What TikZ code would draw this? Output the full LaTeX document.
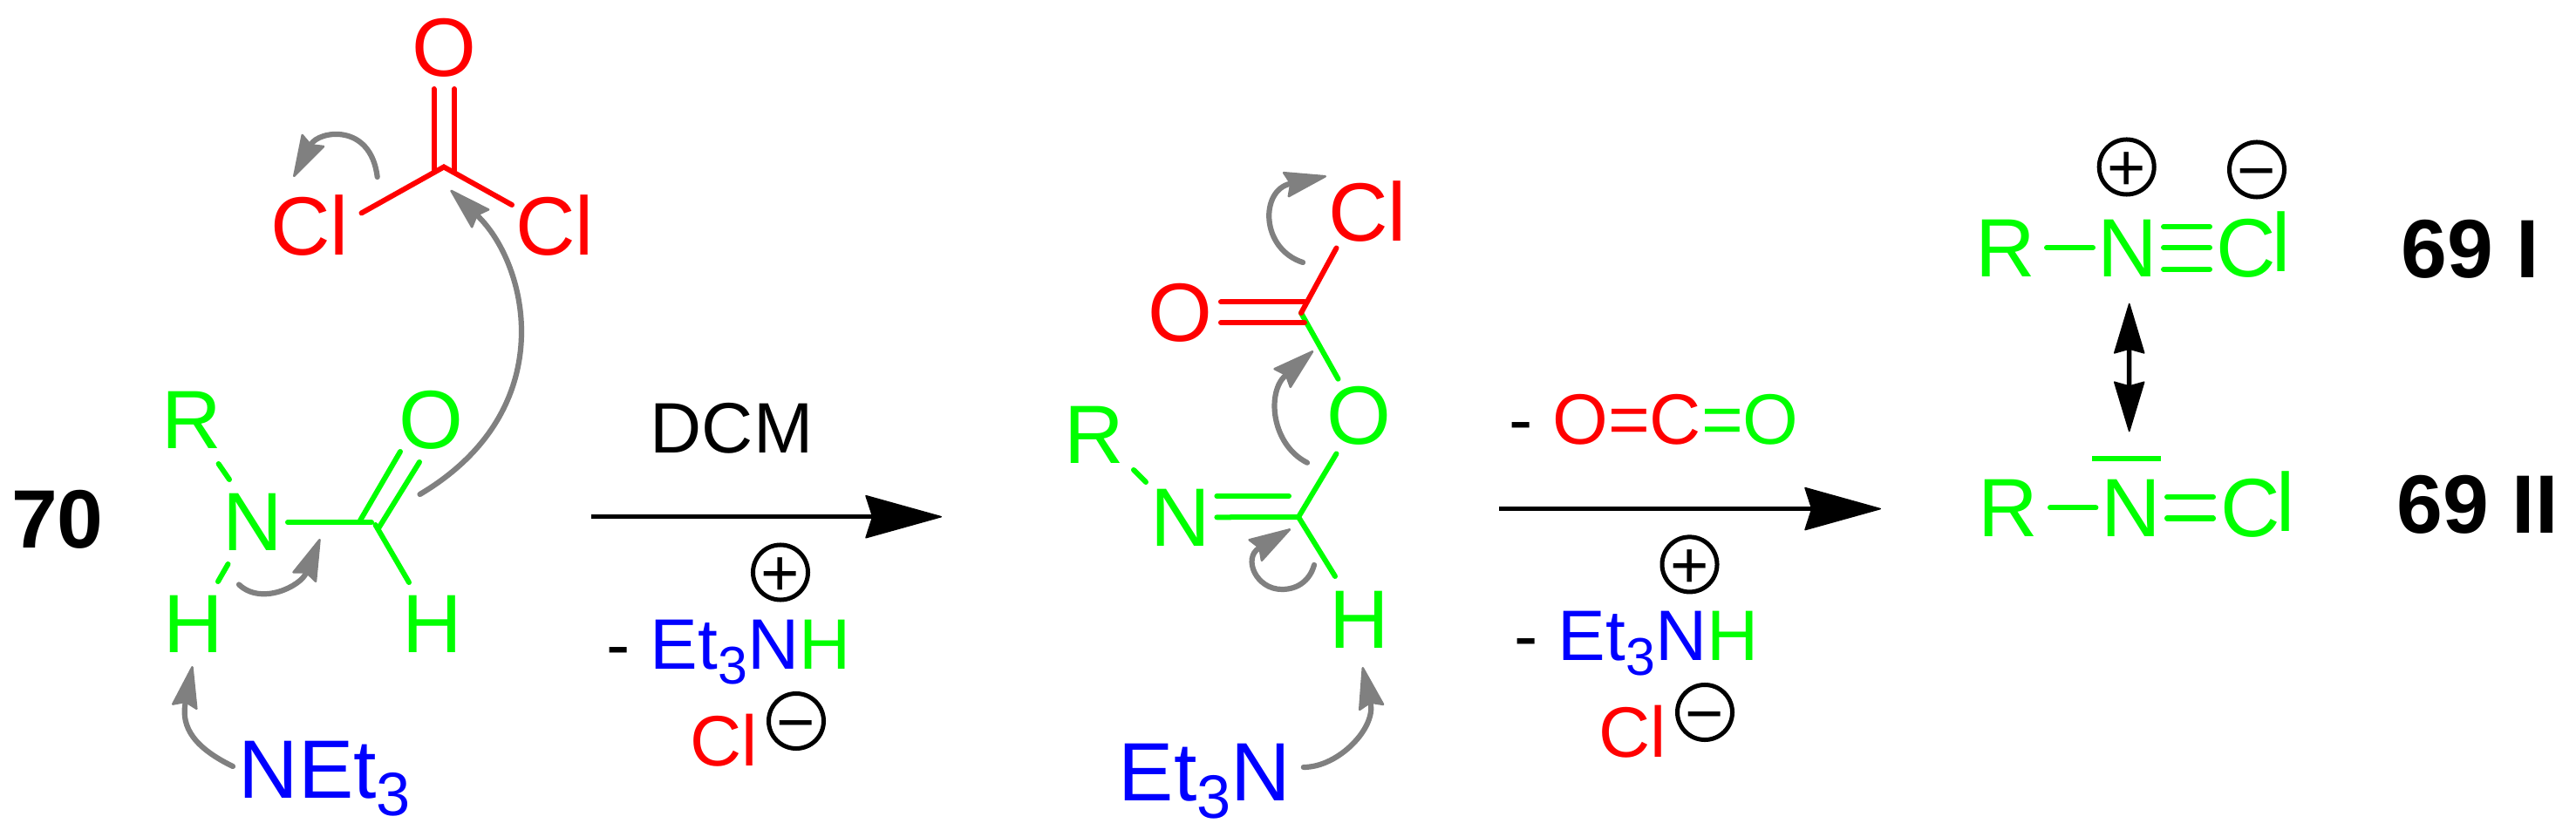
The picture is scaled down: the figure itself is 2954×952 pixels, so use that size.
\documentclass[tikz,border=0pt]{standalone}
\usepackage{fontspec}
\setmainfont{Liberation Sans}
\usetikzlibrary{arrows.meta}
\newcommand{\subbig}{\raisebox{-.2cm}{\fontsize{20}{20}\selectfont 3}}
\newcommand{\subsmall}{\raisebox{-.17cm}{\fontsize{17.3}{20}\selectfont 3}}
\newcommand{\Clup}{C\kern-.04cm\smash{\raisebox{.065cm}{l}}}
\tikzset{
  atom/.style={inner sep=0pt,font=\fontsize{27}{30}\selectfont},
  label/.style={inner sep=0pt,anchor=base west,font=\fontsize{23.3}{26}\selectfont},
  cmpd/.style={inner sep=0pt,anchor=base west,font=\fontsize{27}{30}\selectfont\bfseries},
  bond/.style={line width=0.06cm,line cap=round},
  push/.style={gray,line width=0.062cm,line cap=round,-{Stealth[length=0.52cm,width=0.31cm,inset=0.06cm,round,line width=0.025cm]}},
  rxn/.style={black,line width=0.055cm,-{Stealth[length=0.9cm,width=0.5cm,inset=0.08cm,round,line width=0.015cm]}},
  reso/.style={black,line width=0.055cm,{Stealth[length=0.6cm,width=0.36cm,inset=0.05cm,round,line width=0.015cm]}-{Stealth[length=0.6cm,width=0.36cm,inset=0.05cm,round,line width=0.015cm]}},
  charge/.style={draw,circle,inner sep=0pt,line width=0.05cm,minimum size=0.63cm,text height=0.54cm,text depth=0pt,font=\fontsize{21.6}{24}\selectfont}
}
\begin{document}
\begin{tikzpicture}[x=0.01cm,y=-0.01cm]
  \useasboundingbox (0,0) rectangle (2954,952);
  % phosgene
  \node [atom,text=red] (o1) at (509,55) {O};
  \node [atom,text=red] (cl1) at (355,259) {Cl};
  \node [atom,text=red] (cl2) at (636,259) {Cl};
  \coordinate (c1) at (509,191.5);
  \draw [bond,red] ([shift={(-11.5,47)}]o1.center) -- ([shift={(-11.5,4.5)}]c1);
  \draw [bond,red] ([shift={(12,47)}]o1.center) -- ([shift={(12,4.5)}]c1);
  \draw [bond,red] ([shift={(59.5,-14.6)}]cl1.center) -- (c1) -- ([shift={(-49,-24)}]cl2.center);
  % formamide
  \node [cmpd] (n70) at (12.5,628) {70};
  \node [atom,text=green] (r1) at (220,482) {R};
  \node [atom,text=green] (n1) at (290,599) {N};
  \node [atom,text=green] (o2) at (494,482) {O};
  \node [atom,text=green] (h1) at (222,716) {H};
  \node [atom,text=green] (h2) at (495.5,716) {H};
  \node [atom,text=blue,anchor=base west] (net) at (273,915) {NEt\subbig};
  \coordinate (c2) at (426,599);
  \draw [bond,green] ([shift={(40,0)}]n1.center) -- (c2);
  \draw [bond,green] ([shift={(30.6,50)}]r1.center) -- ([shift={(-27,-49)}]n1.center);
  \draw [bond,green] ([shift={(-28.5,48)}]n1.center) -- ([shift={(28,-49)}]h1.center);
  \draw [bond,green] ([shift={(4.5,3)}]c2) -- ([shift={(-26.5,-48)}]h2.center);
  \draw [bond,green] ([shift={(-35,36)}]o2.center) -- ([shift={(-13,-2)}]c2);
  \draw [bond,green] ([shift={(-13,48)}]o2.center) -- ([shift={(8,7)}]c2);
  % electron pushing, left
  \draw [push] ([shift={(-76.3,11.5)}]c1) .. controls (425,140) and (365,150) .. ([shift={(-18.3,-56)}]cl1.center);
  \draw [push] ([shift={(-12.5,85)}]o2.center) .. controls (645,470) and (606,303) .. ([shift={(7.6,26.5)}]c1);
  \draw [push] ([shift={(52,-45.5)}]h1.center) .. controls (300,695) and (345,672) .. ([shift={(77,19)}]n1.center);
  \draw [push] ([shift={(-6,-36)}]net.base west) .. controls (224,858) and (207,835) .. ([shift={(-1.3,48)}]h1.center);
  % first step
  \coordinate (ar1a) at (678,592.7);
  \coordinate (ar1b) at (1080,592.7);
  \draw [rxn] (ar1a) -- (ar1b);
  \node [label] (dcm) at (745,520) {DCM};
  \node [charge] (plus1) at (895,656.5) {\makebox[0pt]{+}};
  \node [label] (salt1) at (695,767) {- {\color{blue}Et\subsmall N}{\color{green}H}};
  \node [label,text=red] (cl6) at (791,878) {Cl};
  \node [charge] (minus1) at (913,827) {\makebox[0pt]{−}};
  % intermediate
  \node [atom,text=red] (cl3) at (1568,242.5) {Cl};
  \node [atom,text=red] (o3) at (1353,359) {O};
  \node [atom,text=green] (o4) at (1558,477) {O};
  \node [atom,text=green] (r2) at (1255,498.5) {R};
  \node [atom,text=green] (n2) at (1354,594) {N};
  \node [atom,text=green] (h3) at (1559,711) {H};
  \node [atom,text=blue,anchor=base west] (et2) at (1282,918) {Et\subbig N};
  \coordinate (c3) at (1492,359);
  \coordinate (c4) at (1489,593);
  \draw [bond,green] (c3) -- ([shift={(-23.5,-42.3)}]o4.center);
  \draw [bond,red] ([shift={(47,-12.5)}]o3.center) -- ([shift={(4,-12.5)}]c3);
  \draw [bond,red] ([shift={(47,11)}]o3.center) -- ([shift={(4,11)}]c3);
  \draw [bond,red] (c3) -- ([shift={(-35.5,42)}]cl3.center);
  \draw [bond,green] ([shift={(-25.5,43.4)}]o4.center) -- (c4);
  \draw [bond,green] ([shift={(45,40.5)}]r2.center) -- ([shift={(-40,-41)}]n2.center);
  \draw [bond,green] ([shift={(41.4,-25)}]n2.center) -- ([shift={(-11,-24)}]c4);
  \draw [bond,green] ([shift={(41.4,-0.7)}]n2.center) -- (c4);
  \draw [bond,green] (c4) -- ([shift={(-28,-50)}]h3.center);
  % electron pushing, middle
  \draw [push] ([shift={(2,-58)}]c3) .. controls (1445,285) and (1445,218) .. ([shift={(-47,-40.5)}]cl3.center);
  \draw [push] ([shift={(-59,53.7)}]o4.center) .. controls (1458,510) and (1452,450) .. ([shift={(14,43.4)}]c3);
  \draw [push] ([shift={(18,55)}]c4) .. controls (1502,666) and (1488,676) .. (1470,676) .. controls (1440,676) and (1425,640) .. ([shift={(-9,13.7)}]c4);
  \draw [push] ([shift={(14,-38)}]et2.base east) .. controls (1535,880) and (1578,835) .. ([shift={(3.5,54)}]h3.center);
  % second step
  \coordinate (ar2a) at (1719,583.6);
  \coordinate (ar2b) at (2157,583.6);
  \draw [rxn] (ar2a) -- (ar2b);
  \node [label] (co2) at (1729.5,509.5) {- {\color{red}O=C}{\color{green}=O}};
  \node [charge] (plus2) at (1937.5,647.4) {\makebox[0pt]{+}};
  \node [label] (salt2) at (1736,757) {- {\color{blue}Et\subsmall N}{\color{green}H}};
  \node [label,text=red] (cl7) at (1833,868) {Cl};
  \node [charge] (minus2) at (1955,817) {\makebox[0pt]{−}};
  % products
  \node [atom,text=green] (r3) at (2300,285) {R};
  \node [atom,text=green] (n3) at (2440,285) {N};
  \node [atom,text=green] (cl4) at (2584,285) {\Clup};
  \node [charge] (plus3) at (2438.7,191.5) {\makebox[0pt]{+}};
  \node [charge] (minus3) at (2588,194.5) {\makebox[0pt]{−}};
  \node [cmpd] (n69a) at (2753,319) {69 I};
  \draw [bond,green] ([shift={(47,-1)}]r3.center) -- ([shift={(-40,-1)}]n3.center);
  \draw [bond,green] ([shift={(41,-25)}]n3.center) -- ([shift={(-50,-25)}]cl4.center);
  \draw [bond,green] ([shift={(41,-1)}]n3.center) -- ([shift={(-50,-1)}]cl4.center);
  \draw [bond,green] ([shift={(41,24)}]n3.center) -- ([shift={(-50,24)}]cl4.center);
  \node [atom,text=green] (r4) at (2303,583) {R};
  \node [atom,text=green] (n4) at (2444,583) {N};
  \node [atom,text=green] (cl5) at (2589,583) {\Clup};
  \node [cmpd] (n69b) at (2748,611) {69 II};
  \draw [bond,green] ([shift={(48,-0.6)}]r4.center) -- ([shift={(-40.6,-0.6)}]n4.center);
  \draw [bond,green] ([shift={(41,-13)}]n4.center) -- ([shift={(-51,-13)}]cl5.center);
  \draw [bond,green] ([shift={(41,11.5)}]n4.center) -- ([shift={(-51,11.5)}]cl5.center);
  \draw [green,line width=0.06cm] ([shift={(-45,-56.6)}]n4.center) -- ([shift={(34,-56.6)}]n4.center);
  \draw [reso] ([shift={(1.7,62.7)}]n3.center) -- ([shift={(-2.3,-87.6)}]n4.center);
\end{tikzpicture}
\end{document}
